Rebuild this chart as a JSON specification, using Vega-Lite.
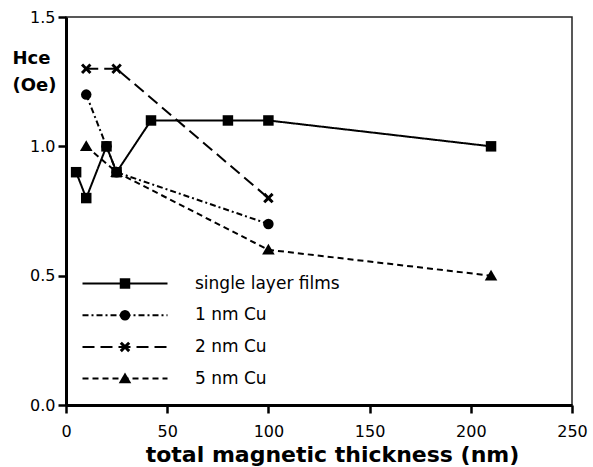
{
  "$schema": "https://vega.github.io/schema/vega-lite/v6.json",
  "width": 506,
  "height": 388,
  "autosize": {"type": "none"},
  "padding": {"left": 66, "top": 17, "right": 21, "bottom": 62},
  "background": "white",
  "config": {
    "view": {"stroke": "#222", "strokeWidth": 1.5},
    "font": "DejaVu Sans",
    "axis": {
      "grid": false,
      "domainColor": "black",
      "domainWidth": 3,
      "tickColor": "black",
      "tickWidth": 2.5,
      "tickSize": 8,
      "labelFont": "DejaVu Sans",
      "labelFontSize": 16,
      "labelColor": "black",
      "titleFont": "DejaVu Sans",
      "titleFontWeight": "bold",
      "titleColor": "black"
    }
  },
  "data": {
    "values": [
      {"series": "single layer films", "thickness": 5, "hce": 0.9},
      {"series": "single layer films", "thickness": 10, "hce": 0.8},
      {"series": "single layer films", "thickness": 20, "hce": 1.0},
      {"series": "single layer films", "thickness": 25, "hce": 0.9},
      {"series": "single layer films", "thickness": 42, "hce": 1.1},
      {"series": "single layer films", "thickness": 80, "hce": 1.1},
      {"series": "single layer films", "thickness": 100, "hce": 1.1},
      {"series": "single layer films", "thickness": 210, "hce": 1.0},
      {"series": "1 nm Cu", "thickness": 10, "hce": 1.2},
      {"series": "1 nm Cu", "thickness": 20, "hce": 1.0},
      {"series": "1 nm Cu", "thickness": 25, "hce": 0.9},
      {"series": "1 nm Cu", "thickness": 100, "hce": 0.7},
      {"series": "2 nm Cu", "thickness": 10, "hce": 1.3},
      {"series": "2 nm Cu", "thickness": 25, "hce": 1.3},
      {"series": "2 nm Cu", "thickness": 100, "hce": 0.8},
      {"series": "5 nm Cu", "thickness": 10, "hce": 1.0},
      {"series": "5 nm Cu", "thickness": 25, "hce": 0.9},
      {"series": "5 nm Cu", "thickness": 100, "hce": 0.6},
      {"series": "5 nm Cu", "thickness": 210, "hce": 0.5}
    ]
  },
  "encoding": {
    "x": {
      "field": "thickness",
      "type": "quantitative",
      "scale": {"domain": [0, 250]},
      "axis": {
        "values": [0, 50, 100, 150, 200, 250],
        "title": "total magnetic thickness (nm)",
        "titleFontSize": 22,
        "titleX": 266,
        "titleY": 56,
        "titleAlign": "center",
        "titleBaseline": "alphabetic",
        "labelPadding": 10,
        "labelFlush": false
      }
    },
    "y": {
      "field": "hce",
      "type": "quantitative",
      "scale": {"domain": [0, 1.5]},
      "axis": {
        "values": [0, 0.5, 1, 1.5],
        "format": ".1f",
        "title": ["Hce", "(Oe)"],
        "titleAngle": 0,
        "titleAlign": "left",
        "titleBaseline": "alphabetic",
        "titleX": -54,
        "titleY": 46,
        "titleFontSize": 18,
        "titleLineHeight": 27,
        "labelPadding": 3
      }
    }
  },
  "layer": [
    {
      "mark": {"type": "line", "color": "black", "strokeWidth": 2},
      "encoding": {
        "strokeDash": {
          "field": "series",
          "type": "nominal",
          "scale": {
            "domain": ["single layer films", "1 nm Cu", "2 nm Cu", "5 nm Cu"],
            "range": [[1, 0], [6, 3, 2, 3], [12, 6], [6, 4]]
          },
          "legend": {
            "orient": "none",
            "legendX": 7,
            "legendY": 257,
            "title": null,
            "padding": 0,
            "symbolType": "M-5,0H5",
            "symbolSize": 289,
            "symbolStrokeWidth": 2,
            "symbolStrokeColor": "black",
            "symbolOffset": 42.5,
            "labelOffset": 60.5,
            "labelFontSize": 17,
            "labelFont": "DejaVu Sans",
            "labelColor": "black",
            "labelLimit": 300,
            "rowPadding": 13.7
          }
        }
      }
    },
    {
      "mark": {"type": "point", "filled": true, "color": "black", "opacity": 1, "size": 110},
      "encoding": {
        "shape": {
          "field": "series",
          "type": "nominal",
          "sort": null,
          "scale": {
            "range": ["square", "circle", "M-1,-0.6L-0.6,-1L0,-0.4L0.6,-1L1,-0.6L0.4,0L1,0.6L0.6,1L0,0.4L-0.6,1L-1,0.6L-0.4,0Z", "M0,-1.15L1.2,0.9L-1.2,0.9Z"]
          },
          "legend": {
            "orient": "none",
            "legendX": 7,
            "legendY": 257,
            "title": null,
            "padding": 0,
            "symbolSize": 110,
            "symbolStrokeWidth": 0,
            "symbolFillColor": "black",
            "symbolOffset": 42.5,
            "labelExpr": "''",
            "labelFontSize": 19,
            "rowPadding": 11.7
          }
        },
        "order": {"field": "series", "sort": "ascending"}
      }
    }
  ]
}
